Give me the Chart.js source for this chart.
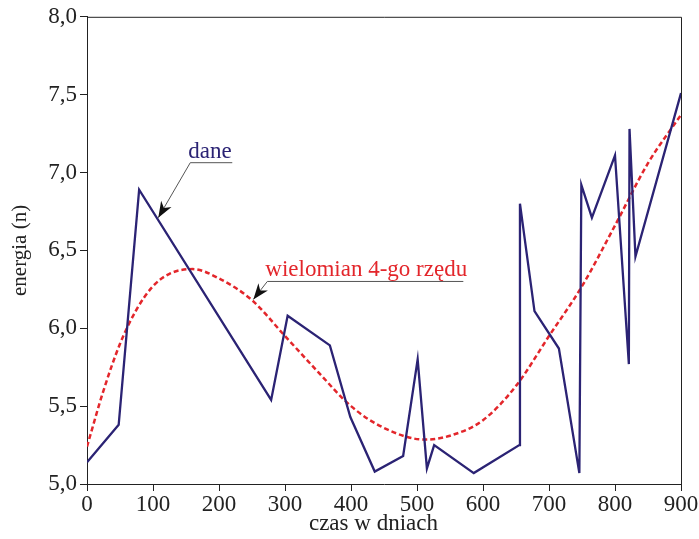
<!DOCTYPE html>
<html>
<head>
<meta charset="utf-8">
<script src="https://cdn.jsdelivr.net/npm/chart.js@4"></script>
<style>
html,body{margin:0;padding:0;background:#fff;}
#wrap{width:699px;height:539px;}
</style>
</head>
<body>
<div id="wrap"><canvas id="c" width="699" height="539"></canvas></div>
<script>
// measured data series (days, energy)
const daneX = [0, 48, 79, 279, 304, 368, 399, 436, 479, 501, 515, 526, 586, 655, 656, 678, 715, 746, 749, 765, 800, 821, 822, 831, 900];
const daneY = [5.14, 5.38, 6.89, 5.54, 6.08, 5.89, 5.43, 5.08, 5.18, 5.80, 5.10, 5.25, 5.07, 5.25, 6.80, 6.11, 5.87, 5.07, 6.92, 6.71, 7.11, 5.77, 7.28, 6.46, 7.51];
// 4th order polynomial trend
const polyX = [0, 25, 50, 75, 100, 125, 160, 200, 250, 300, 350, 400, 450, 512, 550, 600, 650, 700, 750, 800, 850, 900];
const polyY = [5.24, 5.60, 5.90, 6.12, 6.27, 6.35, 6.38, 6.32, 6.18, 5.95, 5.72, 5.50, 5.36, 5.285, 5.31, 5.41, 5.63, 5.95, 6.27, 6.66, 7.06, 7.37];
const xTickLabels = ['0','100','200','300','400','500','600','700','800','900'];
const yTickLabels = ['5,0','5,5','6,0','6,5','7,0','7,5','8,0'];
const seriesNames = ['dane', 'wielomian 4-go rzędu'];
const axisTitles = {x: 'czas w dniach', y: 'energia (n)'};

const BLUE = '#2b2374';
const RED = '#e3262b';
const FONT = '"Liberation Serif", "DejaVu Serif", serif';

const toPts = (xs, ys) => xs.map((x, i) => ({x: x, y: ys[i]}));

// annotation anchors (data coords of arrow tips)
const annotations = [
  {text: seriesNames[0], color: BLUE, tip: {x: 108, y: 6.71}, elbow: [32, -55], lineLen: 42},
  {text: seriesNames[1], color: RED, tip: {x: 252, y: 6.185}, elbow: [14, -18], lineLen: 196}
];

const framePlugin = {
  id: 'frame',
  afterDraw(chart) {
    const {ctx, chartArea: a} = chart;
    const xs = chart.scales.x, ys = chart.scales.y;
    ctx.save();
    ctx.strokeStyle = '#222';
    ctx.lineWidth = 1;
    ctx.beginPath();
    ctx.moveTo(a.left, a.top + 0.5);
    ctx.lineTo(a.right + 0.5, a.top + 0.5);
    ctx.lineTo(a.right + 0.5, a.bottom);
    ctx.stroke();
    // x axis title
    ctx.fillStyle = '#222';
    ctx.font = '23px ' + FONT;
    ctx.textAlign = 'center';
    ctx.textBaseline = 'alphabetic';
    ctx.fillText(axisTitles.x, xs.getPixelForValue(434), a.bottom + 46);
    // annotations
    annotations.forEach(an => {
      const tx = xs.getPixelForValue(an.tip.x);
      const ty = ys.getPixelForValue(an.tip.y);
      const ex = tx + an.elbow[0], ey = ty + an.elbow[1];
      ctx.strokeStyle = '#555';
      ctx.lineWidth = 1;
      ctx.beginPath();
      ctx.moveTo(ex + an.lineLen, ey);
      ctx.lineTo(ex, ey);
      ctx.lineTo(tx, ty);
      ctx.stroke();
      const ang = Math.atan2(ty - ey, tx - ex);
      const L = 16, W = 6;
      ctx.fillStyle = '#111';
      ctx.beginPath();
      ctx.moveTo(tx, ty);
      ctx.lineTo(tx - L * Math.cos(ang) + W * Math.sin(ang), ty - L * Math.sin(ang) - W * Math.cos(ang));
      ctx.lineTo(tx - L * 0.7 * Math.cos(ang), ty - L * 0.7 * Math.sin(ang));
      ctx.lineTo(tx - L * Math.cos(ang) - W * Math.sin(ang), ty - L * Math.sin(ang) + W * Math.cos(ang));
      ctx.closePath();
      ctx.fill();
      ctx.fillStyle = an.color;
      ctx.font = '23px ' + FONT;
      ctx.textAlign = 'left';
      ctx.fillText(an.text, ex - 2, ey - 5);
    });
    ctx.restore();
  }
};

new Chart(document.getElementById('c'), {
  type: 'line',
  data: {
    datasets: [
      {
        label: seriesNames[0],
        data: toPts(daneX, daneY),
        borderColor: BLUE,
        borderWidth: 2.3,
        pointRadius: 0,
        tension: 0,
        fill: false
      },
      {
        label: seriesNames[1],
        data: toPts(polyX, polyY),
        borderColor: RED,
        borderWidth: 2.5,
        borderDash: [5, 3],
        pointRadius: 0,
        cubicInterpolationMode: 'monotone',
        fill: false
      }
    ]
  },
  options: {
    responsive: false,
    animation: false,
    layout: {padding: {top: 16, right: 18, left: 0, bottom: 0}},
    plugins: {legend: {display: false}, tooltip: {enabled: false}},
    scales: {
      x: {
        type: 'linear',
        min: 0, max: 900,
        afterFit(s) { s.height = 55; },
        border: {color: '#222', width: 1},
        grid: {drawOnChartArea: false, tickLength: 7, color: '#222'},
        ticks: {
          stepSize: 100,
          padding: 0,
          color: '#222',
          font: {family: FONT, size: 23},
          maxRotation: 0,
          callback: (v) => xTickLabels[Math.round(v / 100)]
        },
        title: {display: false, text: axisTitles.x}
      },
      y: {
        type: 'linear',
        min: 5, max: 8,
        afterFit(s) { s.width = 87; },
        border: {color: '#222', width: 1},
        grid: {drawOnChartArea: false, tickLength: 7, color: '#222'},
        ticks: {
          stepSize: 0.5,
          padding: 3,
          color: '#222',
          font: {family: FONT, size: 23},
          callback: (v) => yTickLabels[Math.round((v - 5) * 2)]
        },
        title: {display: true, text: axisTitles.y, color: '#222', font: {family: FONT, size: 21}, padding: {top: 8, bottom: 0}}
      }
    }
  },
  plugins: [framePlugin]
});
</script>
</body>
</html>
